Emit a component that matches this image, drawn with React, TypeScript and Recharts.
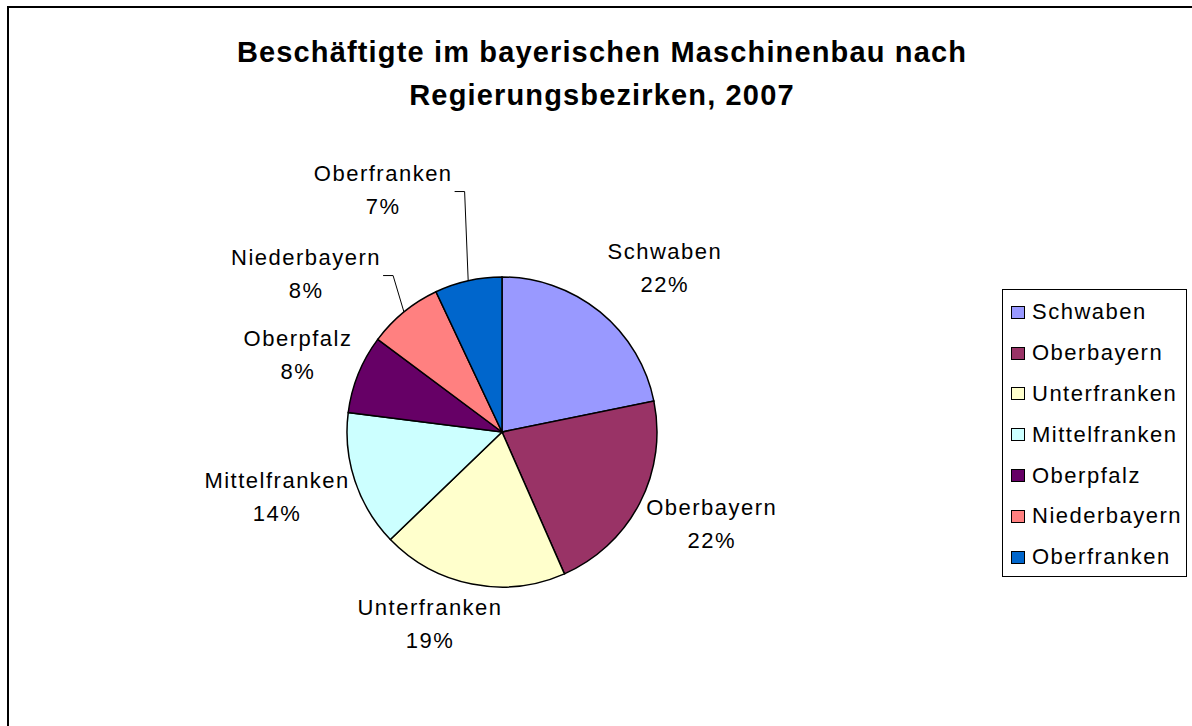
import React from 'react';
import { PieChart, Pie, Cell, Legend, Customized } from 'recharts';

const regions = ['Schwaben', 'Oberbayern', 'Unterfranken', 'Mittelfranken', 'Oberpfalz', 'Niederbayern', 'Oberfranken'];
const shares = [21.8, 21.6, 19.4, 14.2, 8.2, 7.8, 7.0];
const colors = ['#9999FF', '#993366', '#FFFFCC', '#CCFFFF', '#660066', '#FF8080', '#0066CC'];
const titleLines = ['Beschäftigte im bayerischen Maschinenbau nach', 'Regierungsbezirken, 2007'];

const data = regions.map((name, i) => ({ name, value: shares[i] }));

// label placement: distance from centre and angular shift (deg, clockwise) vs. slice mid-angle
const labelPlacement: Record<string, { dist: number; shift: number; leader?: boolean }> = {
  Schwaben: { dist: 231, shift: 5.6 },
  Oberbayern: { dist: 229, shift: -3.7 },
  Unterfranken: { dist: 205, shift: 9.4 },
  Mittelfranken: { dist: 234, shift: 2.3 },
  Oberpfalz: { dist: 218, shift: -1.3 },
  Niederbayern: { dist: 252, shift: -11.8, leader: true },
  Oberfranken: { dist: 270, shift: -13.5, leader: true },
};

const FONT = 'Arial, "Liberation Sans", sans-serif';
const LABEL_SIZE = 22;
const LETTER = 1.5;

let ctx: CanvasRenderingContext2D | null = null;
function textWidth(s: string) {
  if (!ctx) {
    const c = document.createElement('canvas');
    ctx = c.getContext('2d');
  }
  if (!ctx) return s.length * 11;
  ctx.font = `${LABEL_SIZE}px ${FONT}`;
  return ctx.measureText(s).width + LETTER * s.length;
}

const renderLabel = (props: any) => {
  const { cx, cy, midAngle, outerRadius, name, percent } = props;
  const p = labelPlacement[name];
  const midCw = 90 - midAngle;
  const theta = ((midCw + p.shift) * Math.PI) / 180;
  const lx = cx + p.dist * Math.sin(theta);
  const ly = cy - p.dist * Math.cos(theta);
  const pct = `${Math.round(percent * 100)}%`;
  let leader = null;
  if (p.leader) {
    const tm = (midCw * Math.PI) / 180;
    const ex = cx + outerRadius * Math.sin(tm);
    const ey = cy - outerRadius * Math.cos(tm);
    const right = lx + textWidth(name) / 2;
    const hy = ly + 2;
    leader = (
      <polyline
        points={`${ex},${ey} ${right + 12},${hy} ${right + 2},${hy}`}
        fill="none"
        stroke="#000"
        strokeWidth={1}
      />
    );
  }
  return (
    <g key={`lbl-${name}`}>
      {leader}
      <text x={lx} y={ly - 16.5} textAnchor="middle" dominantBaseline="central" fontFamily={FONT} fontSize={LABEL_SIZE} letterSpacing={LETTER} fill="#000">
        {name}
      </text>
      <text x={lx} y={ly + 16.5} textAnchor="middle" dominantBaseline="central" fontFamily={FONT} fontSize={LABEL_SIZE} letterSpacing={LETTER} fill="#000">
        {pct}
      </text>
    </g>
  );
};

const LegendBox = () => (
  <div
    style={{
      width: 185,
      height: 288,
      border: '1px solid #000',
      boxSizing: 'border-box',
      background: '#fff',
      paddingTop: 2,
    }}
  >
    {regions.map((name, i) => (
      <div key={name} style={{ display: 'flex', alignItems: 'center', height: 40.8, paddingLeft: 8 }}>
        <span
          style={{
            display: 'inline-block',
            width: 12,
            height: 11,
            background: colors[i],
            border: '1.5px solid #000',
            marginRight: 7,
          }}
        />
        <span style={{ fontFamily: FONT, fontSize: LABEL_SIZE, letterSpacing: LETTER, color: '#000' }}>{name}</span>
      </div>
    ))}
  </div>
);

const Title = () => (
  <g>
    {titleLines.map((t, i) => (
      <text
        key={t}
        x={602}
        y={62 + i * 43}
        textAnchor="middle"
        fontFamily={FONT}
        fontWeight="bold"
        fontSize={29}
        letterSpacing={1.15}
        fill="#000"
      >
        {t}
      </text>
    ))}
  </g>
);

export default function App() {
  return (
    <div style={{ position: 'relative', width: 1192, height: 726, background: '#fff', overflow: 'hidden' }}>
      <style>{'body{margin:0;}'}</style>
      <div
        style={{
          position: 'absolute',
          left: 7,
          top: 6,
          width: 1200,
          height: 760,
          border: '2px solid #000',
          boxSizing: 'border-box',
        }}
      />
      <div style={{ position: 'absolute', left: 0, top: 0 }}>
        <PieChart width={1192} height={726} margin={{ top: 0, right: 0, bottom: 0, left: 0 }}>
          <Customized component={Title} />
          <Pie
            data={data}
            dataKey="value"
            nameKey="name"
            cx={502}
            cy={432}
            outerRadius={155}
            startAngle={90}
            endAngle={-270}
            stroke="#000"
            strokeWidth={1.5}
            label={renderLabel}
            labelLine={false}
            isAnimationActive={false}
            legendType="square"
          >
            {data.map((d, i) => (
              <Cell key={d.name} fill={colors[i]} />
            ))}
          </Pie>
          <Legend
            content={<LegendBox />}
            layout="vertical"
            wrapperStyle={{ left: 1002, top: 289, width: 185, height: 288 }}
          />
        </PieChart>
      </div>
    </div>
  );
}
